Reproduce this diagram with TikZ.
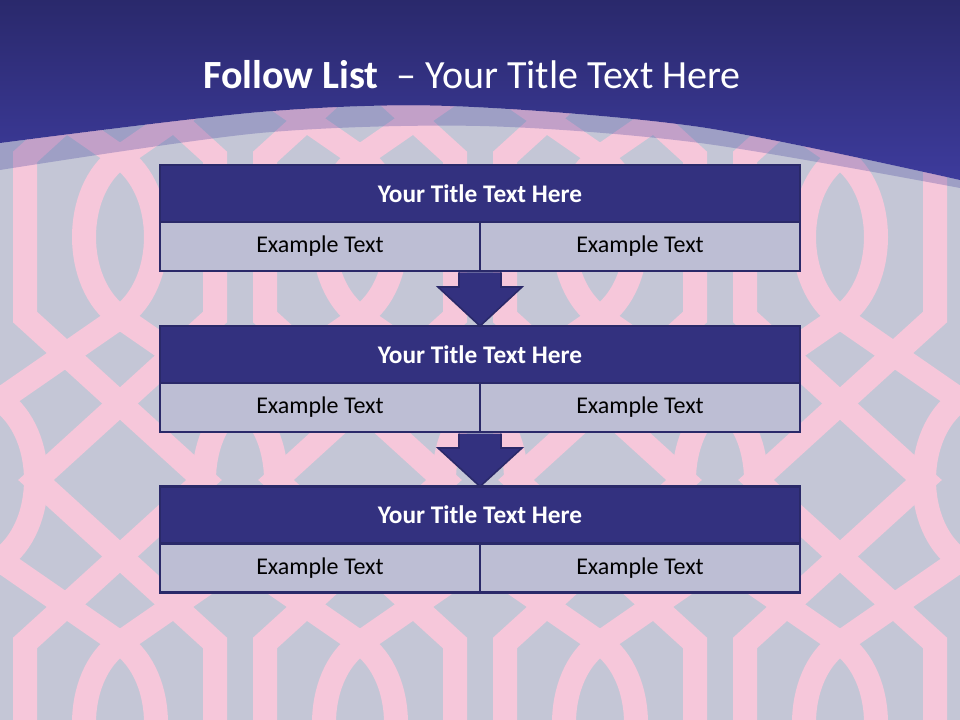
\documentclass[tikz,border=0pt]{standalone}
\usepackage{fontspec}
\setmainfont{Carlito}
\usetikzlibrary{positioning,calc}

\definecolor{bgGrey}{HTML}{C4C6D6}
\definecolor{trellisPink}{HTML}{F6C7DA}
\definecolor{bannerTop}{HTML}{2A296C}
\definecolor{bannerBot}{HTML}{3D3B9C}
\definecolor{headFill}{HTML}{33317F}
\definecolor{cellFill}{HTML}{BDBED4}
\definecolor{edgeNavy}{HTML}{2A2969}

\begin{document}
\begin{tikzpicture}[x=0.75pt, y=-0.75pt,
    every node/.style={font=\fontsize{18}{22}\selectfont, align=center},
    head/.style={rectangle, draw=edgeNavy, line width=2pt, fill=headFill, text=white,
        font=\fontsize{19}{23}\selectfont\bfseries, minimum width=480pt, minimum height=42.75pt,
        inner sep=0pt, outer sep=0pt},
    cell/.style={rectangle, draw=edgeNavy, line width=2pt, fill=cellFill, text=black,
        minimum width=240pt, minimum height=36.75pt, inner sep=0pt, outer sep=0pt},
    band/.style={draw=trellisPink, line width=18pt, line join=miter},
    downarr/.style={fill=headFill, draw=edgeNavy, line width=1.2pt, line join=miter}
]
\useasboundingbox (0,0) rectangle (960,720);
\fill[bgGrey] (0,0) rectangle (960,720);

% trellis background
\begin{scope}
\clip (0,0) rectangle (960,720);
\foreach \c in {-120,120,360,600,840,1080} {
    \draw[band] (\c,-329) foreach \a in {-249,237,723} {
        .. controls (\c-48,\a-47) and (\c-48,\a+47) .. (\c,\a+80) -- (\c+120,\a+163)
        .. controls (\c+168,\a+196) and (\c+168,\a+290) .. (\c+120,\a+323) -- (\c,\a+406) };
    \draw[band] (\c,-329) foreach \a in {-249,237,723} {
        .. controls (\c+48,\a-47) and (\c+48,\a+47) .. (\c,\a+80) -- (\c-120,\a+163)
        .. controls (\c-168,\a+196) and (\c-168,\a+290) .. (\c-120,\a+323) -- (\c,\a+406) };
    \draw[band] (\c-95,-329) foreach \a in {-249,237,723} {
        -- (\c-95,\a+80) -- (\c+84,\a+243) -- (\c-95,\a+406) };
    \draw[band] (\c+95,-329) foreach \a in {-249,237,723} {
        -- (\c+95,\a+80) -- (\c-84,\a+243) -- (\c+95,\a+406) };
}
\end{scope}

% banner
\shade[top color=bannerTop, bottom color=bannerBot]
    (0,0) -- (960,0) -- plot[smooth] coordinates {(960,180) (700,127) (450,106) (260,112) (0,143)} -- cycle;
\fill[bannerBot, opacity=0.28]
    plot[smooth] coordinates {(0,143) (260,112) (450,106) (700,127) (960,180)}
    -- plot[smooth] coordinates {(960,188) (700,143) (480,126) (260,133) (0,170)} -- cycle;
\node[font=\fontsize{30}{36}\selectfont, text=white] (title) at (472,75)
    {\textbf{Follow List}~~– Your Title Text Here};

% list
\node[head] (head1) at (480,193.5) {Your Title Text Here};
\node[cell, anchor=north east] (left1)  at (head1.south) {Example Text};
\node[cell, anchor=north west] (right1) at (head1.south) {Example Text};

\node[head] (head2) at (480,354.5) {Your Title Text Here};
\node[cell, anchor=north east] (left2)  at (head2.south) {Example Text};
\node[cell, anchor=north west] (right2) at (head2.south) {Example Text};

\node[head] (head3) at (480,515) {Your Title Text Here};
\node[cell, anchor=north east] (left3)  at (head3.south) {Example Text};
\node[cell, anchor=north west] (right3) at (head3.south) {Example Text};

\draw[downarr] ($(left1.south east)+(-21,1.5)$) -- ($(left1.south east)+(-21,16)$)
    -- ($(left1.south east)+(-42,16)$) -- (head2.north) -- ($(left1.south east)+(42,16)$)
    -- ($(left1.south east)+(21,16)$) -- ($(left1.south east)+(21,1.5)$);
\draw[downarr] ($(left2.south east)+(-21,1.5)$) -- ($(left2.south east)+(-21,16)$)
    -- ($(left2.south east)+(-42,16)$) -- (head3.north) -- ($(left2.south east)+(42,16)$)
    -- ($(left2.south east)+(21,16)$) -- ($(left2.south east)+(21,1.5)$);
\end{tikzpicture}
\end{document}
